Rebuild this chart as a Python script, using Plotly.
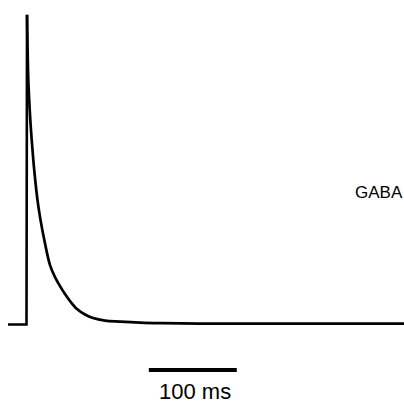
import plotly.graph_objects as go

# Averaged GABA-evoked current, normalised to peak (time in ms)
time_ms = [0.0, 21.0, 21.6, 23.07, 24.09, 25.34, 26.93, 28.75, 30.91, 33.52,
           36.93, 41.25, 47.73, 53.41, 59.09, 64.77, 70.45, 78.41, 87.5, 96.59,
           110.2, 127.3, 150.0, 172.7, 218.2, 450.0]
current = [0.0, 0.0, 1.0, 0.790, 0.725, 0.661, 0.596, 0.532, 0.467, 0.402,
           0.338, 0.273, 0.192, 0.153, 0.124, 0.0985, 0.076, 0.050, 0.0323, 0.021,
           0.0129, 0.0097, 0.0065, 0.0048, 0.0032, 0.0032]
peak_idx = current.index(max(current))

# Time scale bar
scale_start_ms = 160
scale_len_ms = 100
scale_label = "100 ms"
drug_label = "GABA"

fig = go.Figure()
# baseline and onset (straight segments)
fig.add_trace(go.Scatter(
    x=time_ms[:peak_idx + 1], y=current[:peak_idx + 1], mode="lines",
    line=dict(color="black", width=2.6, shape="linear"),
    hoverinfo="skip", showlegend=False,
))
# decay phase, smoothed
fig.add_trace(go.Scatter(
    x=time_ms[peak_idx:], y=current[peak_idx:], mode="lines",
    line=dict(color="black", width=2.7, shape="spline", smoothing=1.0),
    hoverinfo="skip", showlegend=False,
))
fig.add_trace(go.Scatter(
    x=[scale_start_ms, scale_start_ms + scale_len_ms], y=[-0.147, -0.147],
    mode="lines", line=dict(color="black", width=4),
    hoverinfo="skip", showlegend=False,
))

fig.add_annotation(x=scale_start_ms + scale_len_ms / 2 + 2, y=-0.215, text=scale_label,
                   showarrow=False, xanchor="center", yanchor="middle",
                   font=dict(family="Liberation Sans, Arial", size=22, color="black"))
fig.add_annotation(x=421.6, y=0.425, text=drug_label, showarrow=False,
                   xanchor="center", yanchor="middle",
                   font=dict(family="Liberation Sans, Arial", size=17, color="black"))

fig.update_layout(
    width=404, height=406,
    margin=dict(l=0, r=0, t=0, b=0),
    paper_bgcolor="white", plot_bgcolor="white",
    xaxis=dict(range=[-9.1, 450], visible=False, fixedrange=True),
    yaxis=dict(range=[-0.263, 1.048], visible=False, fixedrange=True),
)

fig.write_html("out.html")
